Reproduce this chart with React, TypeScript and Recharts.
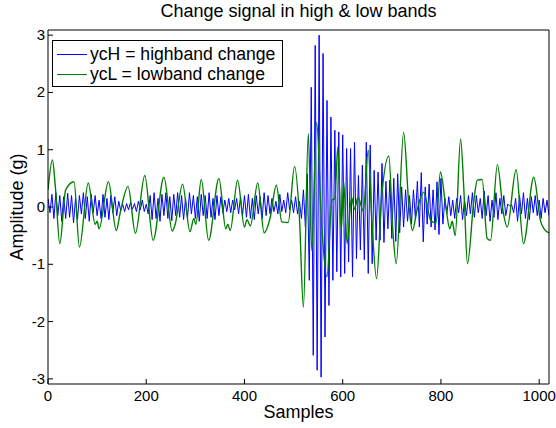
import { LineChart, Line, XAxis, YAxis, Legend } from "recharts";

const title = "Change signal in high & low bands";
const xLabel = "Samples";
const yLabel = "Amplitude (g)";
const highName = "ycH = highband change";
const lowName = "ycL = lowband change";

const xTicks = [0, 200, 400, 600, 800, 1000];
const yTicks = [-3, -2, -1, 0, 1, 2, 3];

// highband: one value every 4 samples
const highStep = 4;
const highValues = [
  0.15, -0.1, 0.22, -0.2, 0.25, -0.15, 0.2, -0.25, 0.18, -0.2,
  0.24, -0.18, 0.2, -0.28, 0.15, -0.22, 0.2, -0.12, 0.25, -0.2,
  0.18, -0.25, 0.22, -0.1, 0.2, -0.15, 0.12, -0.2, 0.22, -0.18,
  0.15, -0.22, 0.2, -0.1, 0.18, -0.15, 0.1, -0.06, 0.05, -0.08,
  0.06, -0.05, 0.08, -0.04, 0.06, -0.08, 0.1, -0.05, 0.12, -0.08,
  0.05, -0.12, 0.2, -0.22, 0.25, -0.2, 0.15, -0.25, 0.22, -0.15,
  0.25, -0.2, 0.18, -0.24, 0.22, -0.15, 0.25, -0.18, 0.2, -0.22,
  0.15, -0.2, 0.25, -0.12, 0.2, -0.2, 0.18, -0.25, 0.22, -0.15,
  0.2, -0.2, 0.25, -0.18, 0.15, -0.22, 0.2, -0.15, 0.18, -0.1,
  0.12, -0.08, 0.15, -0.1, 0.12, -0.05, 0.15, -0.12, 0.18, -0.15,
  0.2, -0.18, 0.22, -0.2, 0.15, -0.22, 0.2, -0.12, 0.18, -0.2,
  0.25, -0.15, 0.2, -0.12, 0.15, -0.08, 0.1, -0.12, 0.22, -0.08,
  0.12, -0.1, 0.25, -0.05, 0.12, -0.1, 0.18, -0.12, 0.1, -0.2,
  0.3, -0.35, 0.58, -1.28, 2.09, -2.59, 2.82, -2.85, 3.0, -2.97,
  2.68, -2.27, 1.86, -1.72, 1.57, -1.28, 1.34, -1.13, 1.31, -1.22,
  1.26, -1.16, 1.02, -0.96, 1.02, -1.22, 1.13, -0.9, 0.55, -0.75,
  0.73, -0.92, 1.13, -1.16, 1.08, -0.99, 0.64, -0.58, 0.61, -0.58,
  0.76, -0.62, 0.45, -0.38, 0.47, -0.55, 0.5, -0.6, 0.58, -0.45,
  0.35, -0.35, 0.3, -0.25, 0.2, -0.3, 0.3, -0.2, 0.45, -0.35,
  0.6, -0.61, 0.35, -0.3, 0.4, -0.35, 0.3, -0.4, 0.44, -0.48,
  0.5, -0.3, 0.15, -0.12, 0.18, -0.15, 0.12, -0.2, 0.15, -0.1,
  0.2, -0.22, 0.12, -0.15, 0.2, -0.12, 0.25, -0.18, 0.2, -0.1,
  0.15, -0.2, 0.28, -0.15, 0.2, -0.25, 0.12, -0.18, 0.25, -0.22,
  0.15, -0.12, 0.2, -0.15, 0.05, 0.02, 0.04, -0.1, 0.15, -0.25,
  0.2, -0.12, 0.25, -0.2, 0.15, -0.22, 0.18, -0.1, 0.2, -0.15,
  0.12, -0.2, 0.15, -0.1, 0.12, -0.15,
];

// lowband: turning points
const lowSamples = [
  0, 9, 15, 24, 36, 53, 64, 82, 96, 100,
  104, 123, 139, 147, 163, 178, 197, 214, 236, 253,
  259, 274, 289, 297, 301, 312, 327, 348, 362, 366,
  371, 386, 400, 405, 412, 427, 440, 452, 465, 476,
  489, 502, 512, 520, 530, 537, 547, 557, 568, 578,
  584, 590, 597, 602, 609, 618, 624, 631, 642, 652,
  659, 669, 679, 694, 702, 709, 724, 735, 742, 752,
  765, 779, 790, 799, 810, 818, 823, 829, 840, 847,
  854, 867, 874, 884, 894, 901, 915, 927, 935, 953,
  968, 989, 1003, 1010, 1020,
];
const lowValues = [
  0.3, 0.82, 0.35, -0.64, 0.3, 0.44, -0.7, 0.42, -0.3, -0.25,
  -0.38, 0.44, -0.41, -0.1, 0.36, -0.46, 0.55, -0.58, 0.52, -0.42,
  -0.3, 0.4, -0.43, -0.2, -0.3, 0.48, -0.58, 0.5, -0.38, -0.3,
  -0.41, 0.47, -0.35, -0.22, -0.33, 0.42, -0.45, -0.2, 0.38, -0.26,
  -0.27, 0.71, -0.2, -1.75, 1.28, -0.76, 1.48, -0.29, -1.22, 0.12,
  0.15, 1.05, -0.41, 0.44, -0.64, 0.17, -0.04, 0.17, -0.07, 0.99,
  -0.17, -1.25, 0.14, 0.89, -0.4, -0.99, 1.3, 0.0, -0.41, -0.03,
  0.26, -0.23, -0.28, 0.61, 0.0, -0.38, -0.25, -0.5, 1.19, 0.24,
  -0.99, 0.11, 0.47, 0.48, -0.55, -0.58, 0.74, -0.1, -0.35, 0.65,
  -0.64, 0.52, -0.25, -0.38, -0.45,
];

const highData = highValues.map((v, i) => ({ s: i * highStep, v }));
const lowData = lowSamples.map((s, i) => ({ s, v: lowValues[i] }));

const FONT = "'Liberation Sans', Arial, Helvetica, sans-serif";
const BLUE = "#0000ff";
const GREEN = "#008000";
const TICK_FS = 15;
const LABEL_FS = 18;

// MATLAB style ticks: short marks pointing into the box
function BottomTick({ x, y, payload }: any) {
  return (
    <g>
      <line x1={x} x2={x} y1={y} y2={y - 5} stroke="#000" />
      <text x={x} y={y + 17} textAnchor="middle" fontSize={TICK_FS} fontFamily={FONT} fill="#000">
        {payload.value}
      </text>
    </g>
  );
}

function LeftTick({ x, y, payload }: any) {
  return (
    <g>
      <line x1={x} x2={x + 5} y1={y} y2={y} stroke="#000" />
      <text x={x - 3} y={y + 5} textAnchor="end" fontSize={TICK_FS} fontFamily={FONT} fill="#000">
        {payload.value}
      </text>
    </g>
  );
}

function TopTick({ x, y }: any) {
  return <line x1={x} x2={x} y1={y} y2={y + 5} stroke="#000" />;
}

function RightTick({ x, y }: any) {
  return <line x1={x} x2={x - 5} y1={y} y2={y} stroke="#000" />;
}

function LegendBox() {
  const items = [
    { name: highName, color: BLUE },
    { name: lowName, color: GREEN },
  ];
  return (
    <div
      style={{
        position: "relative",
        width: 229,
        height: 45,
        border: "1px solid #000",
        background: "#fff",
        fontFamily: FONT,
        fontSize: 17.6,
        color: "#000",
      }}
    >
      {items.map((it, i) => (
        <div key={it.name} style={{ position: "absolute", left: 4, top: 3 + i * 20, height: 20, display: "flex", alignItems: "center", whiteSpace: "nowrap" }}>
          <div style={{ width: 30, borderTop: `1.5px solid ${it.color}`, marginRight: 3 }} />
          <span>{it.name}</span>
        </div>
      ))}
    </div>
  );
}

export default function App() {
  return (
    <div style={{ position: "absolute", left: 0, top: 0, background: "#fff" }}>
      <LineChart width={556} height={428} margin={{ top: 29, right: 6, left: 0, bottom: 0 }}>
        <XAxis
          dataKey="s"
          type="number"
          domain={[0, 1020]}
          ticks={xTicks}
          allowDataOverflow
          height={44}
          tickSize={0}
          tickMargin={0}
          tickLine={false}
          stroke="#000"
          tick={<BottomTick />}
          label={{ value: xLabel, position: "insideBottom", offset: 10, fill: "#000", fontSize: LABEL_FS, fontFamily: FONT }}
        />
        <XAxis
          xAxisId="top"
          orientation="top"
          dataKey="s"
          type="number"
          domain={[0, 1020]}
          ticks={xTicks}
          height={1}
          tickSize={0}
          tickMargin={0}
          tickLine={false}
          tick={<TopTick />}
          stroke="#000"
          label={{ value: title, position: "top", offset: 12, fill: "#000", fontSize: LABEL_FS, fontFamily: FONT }}
        />
        <YAxis
          type="number"
          domain={[-3.09, 3.09]}
          ticks={yTicks}
          allowDataOverflow
          width={48}
          tickSize={0}
          tickMargin={0}
          tickLine={false}
          stroke="#000"
          tick={<LeftTick />}
          label={{ value: yLabel, angle: -90, position: "insideLeft", offset: 17, fill: "#000", fontSize: LABEL_FS, fontFamily: FONT, style: { textAnchor: "middle" } }}
        />
        <YAxis
          yAxisId="right"
          orientation="right"
          type="number"
          domain={[-3.09, 3.09]}
          ticks={yTicks}
          width={1}
          tickSize={0}
          tickMargin={0}
          tickLine={false}
          tick={<RightTick />}
          stroke="#000"
        />
        <Legend
          layout="horizontal"
          verticalAlign="middle"
          align="center"
          wrapperStyle={{ left: 52, top: 40, width: "auto", height: "auto" }}
          content={() => <LegendBox />}
        />
        <Line
          data={highData}
          dataKey="v"
          name={highName}
          type="linear"
          stroke={BLUE}
          strokeWidth={1}
          dot={false}
          activeDot={false}
          isAnimationActive={false}
        />
        <Line
          data={lowData}
          dataKey="v"
          name={lowName}
          type="monotone"
          stroke={GREEN}
          strokeWidth={1.4}
          dot={false}
          activeDot={false}
          isAnimationActive={false}
        />
      </LineChart>
    </div>
  );
}
